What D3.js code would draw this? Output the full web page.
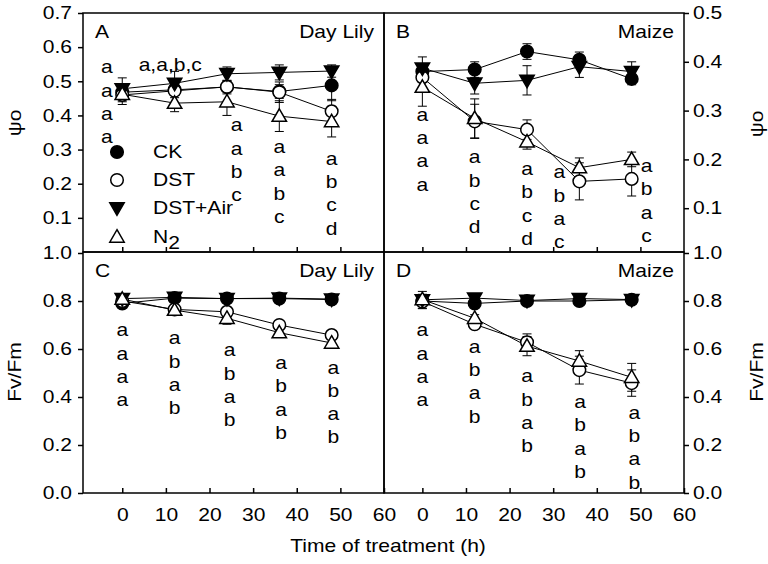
<!DOCTYPE html>
<html>
<head>
<meta charset="utf-8">
<script src="https://cdn.jsdelivr.net/npm/d3@7"></script>
<style>
body { margin: 0; background: #fff; }
svg text { font-family: "Liberation Sans", Arial, sans-serif; font-size: 18px; fill: #000; }
</style>
</head>
<body>
<div id="chart"></div>
<script>
// treatments in draw order: CK, DST, DST+Air, N2
const treatments = ["CK", "DST", "DST+Air", "N2"];
const times = [0, 12, 24, 36, 48];

// A: Day Lily, psi_o
const psiLilyMean = [
  [0.468, 0.475, 0.483, 0.470, 0.488],
  [0.460, 0.472, 0.484, 0.468, 0.412],
  [0.478, 0.494, 0.522, 0.526, 0.530],
  [0.462, 0.436, 0.440, 0.398, 0.382]
];
const psiLilyErr = [
  [0.012, 0.015, 0.020, 0.020, 0.045],
  [0.020, 0.020, 0.015, 0.030, 0.035],
  [0.032, 0.035, 0.020, 0.022, 0.018],
  [0.030, 0.025, 0.040, 0.045, 0.045]
];
// B: Maize, psi_o
const psiMaizeMean = [
  [0.380, 0.384, 0.421, 0.404, 0.365],
  [0.368, 0.278, 0.261, 0.155, 0.160],
  [0.387, 0.356, 0.362, 0.390, 0.380],
  [0.348, 0.284, 0.236, 0.183, 0.200]
];
const psiMaizeErr = [
  [0.015, 0.016, 0.016, 0.016, 0.012],
  [0.020, 0.035, 0.020, 0.038, 0.035],
  [0.023, 0.022, 0.030, 0.022, 0.020],
  [0.039, 0.040, 0.015, 0.020, 0.015]
];
// C: Day Lily, Fv/Fm
const fvLilyMean = [
  [0.790, 0.812, 0.810, 0.810, 0.806],
  [0.800, 0.765, 0.755, 0.700, 0.658],
  [0.810, 0.815, 0.810, 0.812, 0.808],
  [0.808, 0.762, 0.728, 0.668, 0.625]
];
const fvLilyErr = [
  [0.010, 0.008, 0.008, 0.008, 0.010],
  [0.010, 0.010, 0.015, 0.010, 0.010],
  [0.010, 0.010, 0.008, 0.008, 0.008],
  [0.010, 0.012, 0.025, 0.012, 0.015]
];
// D: Maize, Fv/Fm
const fvMaizeMean = [
  [0.800, 0.790, 0.800, 0.800, 0.805],
  [0.798, 0.703, 0.628, 0.512, 0.458],
  [0.805, 0.812, 0.802, 0.810, 0.806],
  [0.806, 0.728, 0.612, 0.550, 0.482]
];
const fvMaizeErr = [
  [0.010, 0.012, 0.010, 0.008, 0.008],
  [0.030, 0.015, 0.035, 0.058, 0.055],
  [0.035, 0.012, 0.010, 0.010, 0.008],
  [0.020, 0.015, 0.040, 0.043, 0.058]
];

// significance letters: column time, value of first letter, letters
const sigLilyPsiT = [-3.5, 11, 26.2, 36, 48];
const sigLilyPsiY = [0.542, 0.548, 0.372, 0.308, 0.274];
const sigLilyPsiL = ["aaaa", "a,a,b,c", "aabc", "aabc", "abcd"];
const sigMaizePsiT = [0, 12, 24, 31.4, 51.4];
const sigMaizePsiY = [0.292, 0.205, 0.181, 0.174, 0.187];
const sigMaizePsiL = ["aaaa", "abcd", "abcd", "abac", "abac"];
const sigLilyFvT = [0, 12, 24.6, 36.4, 48.4];
const sigLilyFvY = [0.679, 0.645, 0.596, 0.543, 0.524];
const sigLilyFvL = ["aaaa", "abab", "abab", "abab", "abab"];
const sigMaizeFvT = [0, 12, 24, 36.2, 48.6];
const sigMaizeFvY = [0.679, 0.61, 0.4875, 0.38, 0.335];
const sigMaizeFvL = ["aaaa", "abab", "abab", "abab", "abab"];

const xTicks = [0, 10, 20, 30, 40, 50, 60];
const psiLilyTicks = [0.1, 0.2, 0.3, 0.4, 0.5, 0.6, 0.7];
const psiMaizeTicks = [0.1, 0.2, 0.3, 0.4, 0.5];
const fvTicks = [0, 0.2, 0.4, 0.6, 0.8, 1.0];

const width = 768, height = 564;
const plotL = 83, plotM = 384, plotR = 684, plotT = 13, plotMY = 252, plotB = 493;
const sx = 1.17; // the original font is wider than Arial

const svg = d3.select("#chart").append("svg")
  .attr("width", width)
  .attr("height", height);

const xLeft = d3.scaleLinear().domain([-9, 60]).range([plotL, plotM]);
const xRight = d3.scaleLinear().domain([-8.8, 60]).range([plotM, plotR]);
const yPsiLily = d3.scaleLinear().domain([0, 0.7]).range([plotMY, plotT]);
const yPsiMaize = d3.scaleLinear().domain([0, 0.5]).range([257, plotT]);
const yFv = d3.scaleLinear().domain([0, 1]).range([plotB, 253]);

const panels = [
  {x: xLeft, y: yPsiLily, mean: psiLilyMean, err: psiLilyErr, y0: plotT, y1: plotMY,
   sigT: sigLilyPsiT, sigY: sigLilyPsiY, sigL: sigLilyPsiL, tag: "A", name: "Day Lily"},
  {x: xRight, y: yPsiMaize, mean: psiMaizeMean, err: psiMaizeErr, y0: plotT, y1: plotMY,
   sigT: sigMaizePsiT, sigY: sigMaizePsiY, sigL: sigMaizePsiL, tag: "B", name: "Maize"},
  {x: xLeft, y: yFv, mean: fvLilyMean, err: fvLilyErr, y0: plotMY, y1: plotB,
   sigT: sigLilyFvT, sigY: sigLilyFvY, sigL: sigLilyFvL, tag: "C", name: "Day Lily", labels: true},
  {x: xRight, y: yFv, mean: fvMaizeMean, err: fvMaizeErr, y0: plotMY, y1: plotB,
   sigT: sigMaizeFvT, sigY: sigMaizeFvY, sigL: sigMaizeFvL, tag: "D", name: "Maize", labels: true}
];

const triUp = d3.symbol().type(d3.symbolTriangle).size(90);

function drawMarker(g, k, cx, cy) {
  if (k < 2) {
    g.append("circle").attr("cx", cx).attr("cy", cy).attr("r", 6.3)
      .attr("fill", k == 0 ? "#000" : "#fff").attr("stroke", "#000").attr("stroke-width", 1.5);
  } else {
    g.append("path").attr("d", triUp())
      .attr("transform", `translate(${cx},${cy + (k == 2 ? -1 : 1)}) rotate(${k == 2 ? 180 : 0})`)
      .attr("fill", k == 2 ? "#000" : "#fff").attr("stroke", "#000").attr("stroke-width", 1.5);
  }
}

panels.forEach(p => {
  const g = svg.append("g");
  const x0 = p.x.range()[0], x1 = p.x.range()[1];

  // x axis ticks, pointing in
  g.append("g")
    .attr("transform", `translate(0,${p.y1})`)
    .call(d3.axisBottom(p.x)
      .tickValues(p.labels ? xTicks : xTicks.slice(0, 6))
      .tickSizeInner(-5).tickSizeOuter(0).tickPadding(15)
      .tickFormat(p.labels ? d3.format("d") : ""))
    .call(a => a.select(".domain").remove())
    .selectAll("line").attr("stroke-width", 1.5);

  // error bars
  p.mean.forEach((ser, k) => {
    ser.forEach((v, i) => {
      const cx = p.x(times[i]);
      const lo = p.y(v - p.err[k][i]), hi = p.y(v + p.err[k][i]);
      g.append("line").attr("x1", cx).attr("x2", cx).attr("y1", lo).attr("y2", hi)
        .attr("stroke", "#000").attr("stroke-width", 1);
      [lo, hi].forEach(yy => g.append("line")
        .attr("x1", cx - 4.5).attr("x2", cx + 4.5).attr("y1", yy).attr("y2", yy)
        .attr("stroke", "#000").attr("stroke-width", 1));
    });
  });

  // lines
  const line = d3.line().x((d, i) => p.x(times[i])).y(d => p.y(d));
  p.mean.forEach(ser => {
    g.append("path").attr("d", line(ser)).attr("fill", "none")
      .attr("stroke", "#000").attr("stroke-width", 1);
  });

  // markers
  p.mean.forEach((ser, k) => {
    ser.forEach((v, i) => drawMarker(g, k, p.x(times[i]), p.y(v)));
  });

  // significance letters
  p.sigT.forEach((t, i) => {
    const s = p.sigL[i];
    if (s.includes(",")) {
      g.append("text").attr("x", p.x(t)).attr("y", p.y(p.sigY[i]))
        .attr("dy", "0.35em").attr("text-anchor", "middle").text(s);
    } else {
      s.split("").forEach((ch, j) => {
        g.append("text").attr("x", p.x(t)).attr("y", p.y(p.sigY[i]) + j * 23.3)
          .attr("dy", "0.35em").attr("text-anchor", "middle").text(ch);
      });
    }
  });

  // panel letters and species
  g.append("text").attr("x", x0 + 12).attr("y", p.y0 + 25).text(p.tag);
  g.append("text").attr("x", x1 - 10).attr("y", p.y0 + 25)
    .attr("text-anchor", "end").text(p.name);

  // frame
  g.append("rect").attr("x", x0).attr("y", p.y0)
    .attr("width", x1 - x0).attr("height", p.y1 - p.y0)
    .attr("fill", "none").attr("stroke", "#000").attr("stroke-width", 1.5);
});

// y axes
function yAxis(axis, tx) {
  svg.append("g").attr("transform", `translate(${tx},0)`)
    .call(axis.tickSize(5).tickFormat(d3.format(".1f")))
    .call(a => a.select(".domain").remove())
    .selectAll("line").attr("stroke-width", 1.5);
}
yAxis(d3.axisLeft(yPsiLily).tickValues(psiLilyTicks).tickPadding(6), plotL);
yAxis(d3.axisLeft(yFv).tickValues(fvTicks).tickPadding(6), plotL);
yAxis(d3.axisRight(yPsiMaize).tickValues(psiMaizeTicks).tickPadding(4), plotR);
yAxis(d3.axisRight(yFv).tickValues(fvTicks).tickPadding(4), plotR);

// legend in panel A
const legY = [152, 180, 208, 237];
treatments.forEach((name, k) => {
  const lg = svg.append("g");
  drawMarker(lg, k, 117, legY[k]);
  const t = lg.append("text").attr("x", 153).attr("y", legY[k] + 6.5);
  if (name == "N2") {
    t.append("tspan").text("N");
    t.append("tspan").attr("dy", 6).text("2");
  } else {
    t.text(name);
  }
});

// widen normal text about its anchor
svg.selectAll("text").each(function() {
  const x = +this.getAttribute("x") || 0;
  this.setAttribute("transform", `translate(${x},0) scale(${sx},1) translate(${-x},0)`);
});

// axis titles
function rotLabel(cx, cy, txt) {
  svg.append("text")
    .attr("transform", `translate(${cx},${cy}) rotate(-90) scale(${sx},1)`)
    .attr("text-anchor", "middle").text(txt);
}
rotLabel(21, 123, "ψo");
rotLabel(21, 372, "Fv/Fm");
rotLabel(763, 124, "ψo");
rotLabel(763, 372, "Fv/Fm");

svg.append("text")
  .attr("transform", `translate(388,552) scale(${sx},1)`)
  .attr("text-anchor", "middle").text("Time of treatment (h)");
</script>
</body>
</html>
